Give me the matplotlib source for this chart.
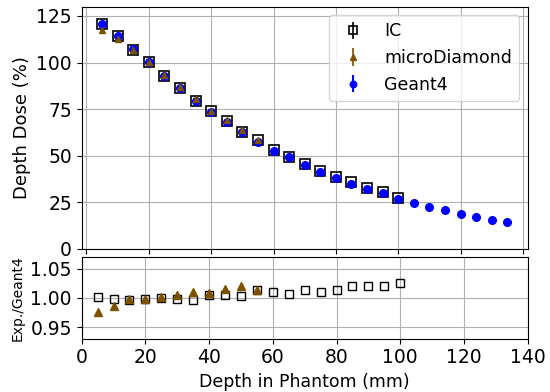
import matplotlib
matplotlib.use("Agg")
import matplotlib.pyplot as plt
import numpy as np

# depths (mm)
depth_g4 = [5, 10, 15, 20, 25, 30, 35, 40, 45, 50, 55, 60, 65, 70, 75, 80, 85,
            90, 95, 100, 105, 110, 115, 120, 125, 130, 135]
depth_ic = [5, 10, 15, 20, 25, 30, 35, 40, 45, 50, 55, 60, 65, 70, 75, 80, 85,
            90, 95, 100]
depth_md = [5, 10, 15, 20, 25, 30, 35, 40, 45, 50, 55]

# depth dose (%)
dose_g4 = [120.5, 114.3, 107.1, 100.2, 93.0, 86.2, 79.6, 73.4, 68.2, 62.5, 57.6,
           52.8, 49.1, 44.9, 41.3, 38.0, 35.0, 32.1, 30.0, 26.8, 24.8, 22.5,
           21.1, 18.9, 17.1, 15.7, 14.3]
dose_ic = [120.7, 114.3, 106.8, 100.1, 93.0, 86.1, 79.4, 73.8, 68.6, 62.7, 58.4,
           53.3, 49.4, 45.5, 41.7, 38.5, 35.7, 32.7, 30.6, 27.5]
dose_md = [117.6, 112.8, 106.9, 100.1, 93.1, 86.7, 80.5, 74.0, 69.2, 63.8, 58.4]

# ratio Exp./Geant4
ratio_ic = [1.001, 0.999, 0.997, 0.999, 1.000, 0.998, 0.997, 1.006, 1.006, 1.003,
            1.014, 1.010, 1.007, 1.013, 1.010, 1.013, 1.020, 1.020, 1.021, 1.025]
ratio_md = [0.976, 0.987, 0.998, 0.999, 1.001, 1.006, 1.011, 1.008, 1.015, 1.020,
            1.014]

err_g4 = [0.6] * len(dose_g4)
err_ic = [1.2] * len(dose_ic)
err_md = [1.2] * len(dose_md)

brown = "#7a5200"
fs = 13.5

fig = plt.figure(figsize=(5.5, 3.92), dpi=100)
ax = fig.add_axes([0.1485, 0.365, 0.811, 0.618])
ax2 = fig.add_axes([0.1485, 0.136, 0.811, 0.2076])

h_ic = ax.errorbar(depth_ic, dose_ic, yerr=err_ic, fmt="s", mfc="none",
                   mec="black", ecolor="black", ms=7.5, mew=1.2, elinewidth=1.2,
                   label="IC", zorder=3)
h_g4 = ax.errorbar(depth_g4, dose_g4, yerr=err_g4, fmt="o", color="blue",
                   ms=5.5, elinewidth=1.5, label="Geant4", zorder=4)
h_md = ax.errorbar(depth_md, dose_md, yerr=err_md, fmt="^", color=brown,
                   ms=5, elinewidth=1.2, label="microDiamond", zorder=5)

ax.set_ylim(0, 130)
ax.set_yticks([0, 25, 50, 75, 100, 125])
ax.set_xticks([0, 20, 40, 60, 80, 100, 120, 140])
ax.tick_params(labelbottom=False, labelsize=fs)
ax.set_ylabel("Depth Dose (%)", fontsize=13)
ax.grid(True)
ax.legend([h_ic, h_md, h_g4], ["IC", "microDiamond", "Geant4"], loc="upper right",
          fontsize=12.5, markerscale=0.85)

ax2.plot(depth_ic, ratio_ic, "s", mfc="none", mec="black", ms=5.5, mew=1.0)
ax2.plot(depth_md, ratio_md, "^", color=brown, ms=5.5)
ax2.set_xlim(0, 140)
ax2.set_ylim(0.93, 1.07)
ax2.set_yticks([0.95, 1.00, 1.05])
ax2.set_xticks([0, 20, 40, 60, 80, 100, 120, 140])
ax2.tick_params(labelsize=fs)
ax2.set_ylabel("Exp./Geant4", fontsize=10)
ax2.set_xlabel("Depth in Phantom (mm)", fontsize=12.5)
ax2.grid(True)

fig.savefig("out.png", dpi=100)
